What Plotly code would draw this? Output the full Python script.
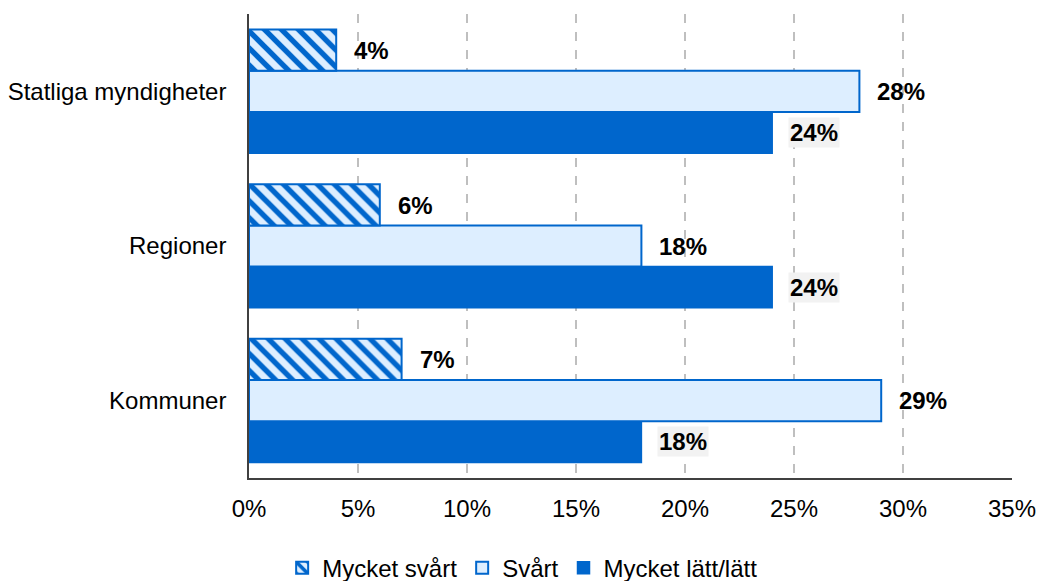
import plotly.graph_objects as go

categories = ["Kommuner", "Regioner", "Statliga myndigheter"]
series_names = ["Mycket lätt/lätt", "Svårt", "Mycket svårt"]
latt = [18, 24, 24]
svart = [29, 18, 28]
mycket_svart = [7, 6, 4]
x_ticks = [0, 5, 10, 15, 20, 25, 30, 35]
x_tick_labels = ["0%", "5%", "10%", "15%", "20%", "25%", "30%", "35%"]

BLUE = "#0066CC"
LIGHT = "#DDEEFF"
FONT = "Liberation Sans, Arial, sans-serif"
FS = 24

fig = go.Figure()
fig.add_trace(go.Bar(
    y=categories, x=latt, name=series_names[0], orientation="h",
    marker=dict(color=BLUE, line=dict(color=BLUE, width=1.5)),
))
fig.add_trace(go.Bar(
    y=categories, x=svart, name=series_names[1], orientation="h",
    marker=dict(color=LIGHT, line=dict(color=BLUE, width=2)),
))
fig.add_trace(go.Bar(
    y=categories, x=mycket_svart, name=series_names[2], orientation="h",
    marker=dict(color=LIGHT, line=dict(color=BLUE, width=2),
                pattern=dict(shape="\\", fgcolor=BLUE, bgcolor=LIGHT,
                             size=12, solidity=0.45, fillmode="replace")),
))

annotations = []
for vals, shift, bg in [(latt, -41, "#F2F2F2"), (svart, 0, None), (mycket_svart, 41, None)]:
    for cat, v in zip(categories, vals):
        a = dict(x=v, y=cat, xref="x", yref="y", text=f"<b>{v}%</b>",
                 showarrow=False, xanchor="left", yanchor="middle",
                 xshift=16, yshift=shift,
                 font=dict(family=FONT, size=FS, color="#000000"))
        if bg:
            a["bgcolor"] = bg
            a["borderpad"] = 1
        annotations.append(a)

fig.update_layout(
    barmode="group",
    bargap=0.2,
    bargroupgap=0,
    width=1037, height=581,
    margin=dict(l=249, r=25, t=14, b=103),
    paper_bgcolor="white", plot_bgcolor="white",
    font=dict(family=FONT, size=FS, color="#000000"),
    annotations=annotations,
    legend=dict(orientation="h", traceorder="reversed",
                xref="container", yref="container",
                x=0.504, y=0.022, xanchor="center", yanchor="middle",
                font=dict(family=FONT, size=FS, color="#000000"),
                itemwidth=30),
    xaxis=dict(range=[0, 35], tickvals=x_ticks, ticktext=x_tick_labels,
               showgrid=True, gridcolor="#BFBFBF", gridwidth=1.5, griddash="dash",
               zeroline=False, showline=True, linecolor="#404040", linewidth=1.5,
               ticks="", ticklabelstandoff=8, automargin=False,
               ticklabeloverflow="allow"),
    yaxis=dict(categoryorder="array", categoryarray=categories,
               range=[-0.5, 2.5],
               showgrid=False, zeroline=False, showline=True,
               linecolor="#404040", linewidth=1.5, ticks="",
               ticklabelstandoff=16, automargin=False),
)

fig.write_html("out.html",
               config={"displayModeBar": False},
               post_script="document.body.style.margin='0';document.body.style.overflow='hidden';")
